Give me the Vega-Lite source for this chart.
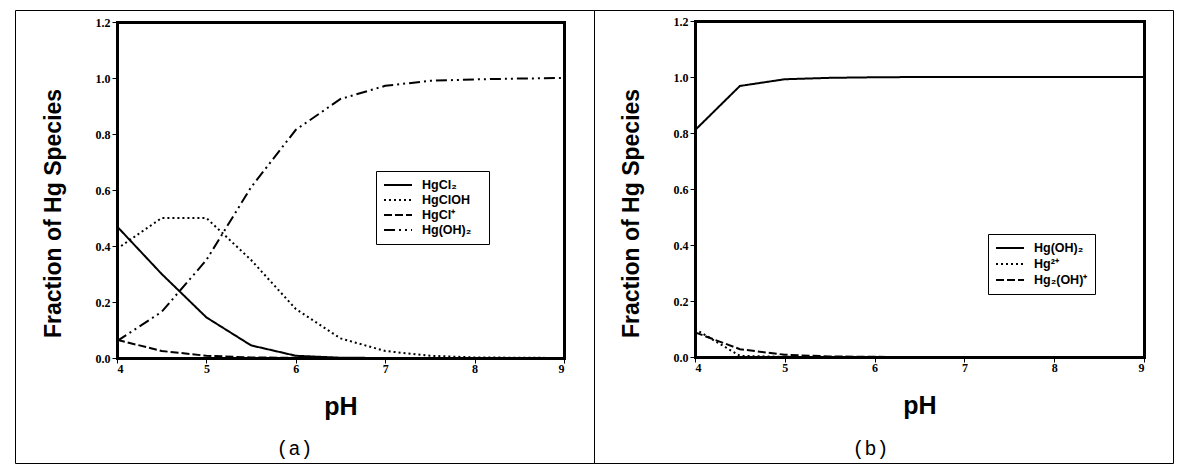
{
  "$schema": "https://vega.github.io/schema/vega-lite/v6.json",
  "padding": {"left": 14, "top": 9, "right": 0, "bottom": 0},
  "background": "white",
  "spacing": 0,
  "bounds": "flush",
  "config": {
    "view": {"stroke": "black", "strokeWidth": 1},
    "axis": {
      "grid": false,
      "domainColor": "black",
      "domainWidth": 3,
      "domainCap": "square",
      "tickColor": "black",
      "tickSize": 5,
      "tickWidth": 1,
      "labelFont": "Liberation Serif",
      "labelFontWeight": "bold",
      "labelFontSize": 12,
      "labelColor": "black",
      "titleFont": "Liberation Sans",
      "titleFontWeight": "bold",
      "titleColor": "black"
    },
    "axisX": {"titleFontSize": 25, "labelPadding": 0, "titlePadding": 20},
    "axisY": {"titleFontSize": 23, "labelPadding": 2, "titlePadding": 30, "titleY": 203},
    "legend": {
      "orient": "none",
      "title": null,
      "strokeColor": "black",
      "strokeWidth": 1,
      "fillColor": "white",
      "padding": 7,
      "labelFont": "Liberation Sans",
      "labelFontWeight": "bold",
      "labelFontSize": 12.5,
      "labelColor": "black",
      "symbolType": "stroke",
      "symbolStrokeColor": "black",
      "symbolStrokeWidth": 2,
      "symbolSize": 784,
      "clipHeight": 14,
      "rowPadding": 2,
      "labelOffset": 9
    },
    "title": {"font": "Liberation Mono", "fontSize": 20, "fontWeight": "normal", "color": "black"}
  },
  "resolve": {"scale": {"strokeDash": "independent"}, "legend": {"strokeDash": "independent"}},
  "datasets": {
    "a": [
      {"pH": 4, "species": "HgCl₂", "value": 0.47},
      {"pH": 4.5, "species": "HgCl₂", "value": 0.30},
      {"pH": 5, "species": "HgCl₂", "value": 0.145},
      {"pH": 5.5, "species": "HgCl₂", "value": 0.045},
      {"pH": 6, "species": "HgCl₂", "value": 0.008},
      {"pH": 6.5, "species": "HgCl₂", "value": 0.001},
      {"pH": 7, "species": "HgCl₂", "value": 0},
      {"pH": 7.5, "species": "HgCl₂", "value": 0},
      {"pH": 8, "species": "HgCl₂", "value": 0},
      {"pH": 8.5, "species": "HgCl₂", "value": 0},
      {"pH": 9, "species": "HgCl₂", "value": 0},
      {"pH": 4, "species": "HgClOH", "value": 0.39},
      {"pH": 4.5, "species": "HgClOH", "value": 0.50},
      {"pH": 5, "species": "HgClOH", "value": 0.50},
      {"pH": 5.5, "species": "HgClOH", "value": 0.35},
      {"pH": 6, "species": "HgClOH", "value": 0.175},
      {"pH": 6.5, "species": "HgClOH", "value": 0.07},
      {"pH": 7, "species": "HgClOH", "value": 0.025},
      {"pH": 7.5, "species": "HgClOH", "value": 0.008},
      {"pH": 8, "species": "HgClOH", "value": 0.002},
      {"pH": 8.5, "species": "HgClOH", "value": 0.001},
      {"pH": 9, "species": "HgClOH", "value": 0},
      {"pH": 4, "species": "HgCl⁺", "value": 0.065},
      {"pH": 4.5, "species": "HgCl⁺", "value": 0.025},
      {"pH": 5, "species": "HgCl⁺", "value": 0.008},
      {"pH": 5.5, "species": "HgCl⁺", "value": 0.002},
      {"pH": 6, "species": "HgCl⁺", "value": 0.0005},
      {"pH": 6.5, "species": "HgCl⁺", "value": 0},
      {"pH": 7, "species": "HgCl⁺", "value": 0},
      {"pH": 7.5, "species": "HgCl⁺", "value": 0},
      {"pH": 8, "species": "HgCl⁺", "value": 0},
      {"pH": 8.5, "species": "HgCl⁺", "value": 0},
      {"pH": 9, "species": "HgCl⁺", "value": 0},
      {"pH": 4, "species": "Hg(OH)₂", "value": 0.06},
      {"pH": 4.5, "species": "Hg(OH)₂", "value": 0.165},
      {"pH": 5, "species": "Hg(OH)₂", "value": 0.35},
      {"pH": 5.5, "species": "Hg(OH)₂", "value": 0.61},
      {"pH": 6, "species": "Hg(OH)₂", "value": 0.815},
      {"pH": 6.5, "species": "Hg(OH)₂", "value": 0.925},
      {"pH": 7, "species": "Hg(OH)₂", "value": 0.972},
      {"pH": 7.5, "species": "Hg(OH)₂", "value": 0.99},
      {"pH": 8, "species": "Hg(OH)₂", "value": 0.995},
      {"pH": 8.5, "species": "Hg(OH)₂", "value": 0.998},
      {"pH": 9, "species": "Hg(OH)₂", "value": 1.0}
    ],
    "b": [
      {"pH": 4, "species": "Hg(OH)₂", "value": 0.81},
      {"pH": 4.5, "species": "Hg(OH)₂", "value": 0.968},
      {"pH": 5, "species": "Hg(OH)₂", "value": 0.992},
      {"pH": 5.5, "species": "Hg(OH)₂", "value": 0.997},
      {"pH": 6, "species": "Hg(OH)₂", "value": 0.999},
      {"pH": 6.5, "species": "Hg(OH)₂", "value": 1.0},
      {"pH": 7, "species": "Hg(OH)₂", "value": 1.0},
      {"pH": 7.5, "species": "Hg(OH)₂", "value": 1.0},
      {"pH": 8, "species": "Hg(OH)₂", "value": 1.0},
      {"pH": 8.5, "species": "Hg(OH)₂", "value": 1.0},
      {"pH": 9, "species": "Hg(OH)₂", "value": 1.0},
      {"pH": 4, "species": "Hg²⁺", "value": 0.10},
      {"pH": 4.5, "species": "Hg²⁺", "value": 0.004},
      {"pH": 5, "species": "Hg²⁺", "value": 0.0005},
      {"pH": 5.5, "species": "Hg²⁺", "value": 0},
      {"pH": 6, "species": "Hg²⁺", "value": 0},
      {"pH": 6.5, "species": "Hg²⁺", "value": 0},
      {"pH": 7, "species": "Hg²⁺", "value": 0},
      {"pH": 7.5, "species": "Hg²⁺", "value": 0},
      {"pH": 8, "species": "Hg²⁺", "value": 0},
      {"pH": 8.5, "species": "Hg²⁺", "value": 0},
      {"pH": 9, "species": "Hg²⁺", "value": 0},
      {"pH": 4, "species": "Hg₂(OH)⁺", "value": 0.088},
      {"pH": 4.5, "species": "Hg₂(OH)⁺", "value": 0.028},
      {"pH": 5, "species": "Hg₂(OH)⁺", "value": 0.008},
      {"pH": 5.5, "species": "Hg₂(OH)⁺", "value": 0.002},
      {"pH": 6, "species": "Hg₂(OH)⁺", "value": 0.0005},
      {"pH": 6.5, "species": "Hg₂(OH)⁺", "value": 0},
      {"pH": 7, "species": "Hg₂(OH)⁺", "value": 0},
      {"pH": 7.5, "species": "Hg₂(OH)⁺", "value": 0},
      {"pH": 8, "species": "Hg₂(OH)⁺", "value": 0},
      {"pH": 8.5, "species": "Hg₂(OH)⁺", "value": 0},
      {"pH": 9, "species": "Hg₂(OH)⁺", "value": 0}
    ]
  },
  "hconcat": [
    {
      "width": 579,
      "height": 453,
      "title": {"text": "(a)", "orient": "bottom", "anchor": "middle", "frame": "group", "offset": -24, "dx": -10},
      "data": {"name": "a"},
      "layer": [
        {
          "mark": {"type": "line", "color": "black", "strokeWidth": 2},
          "encoding": {
            "x": {
              "field": "pH", "type": "quantitative",
              "scale": {"domain": [4, 9], "range": [102, 549], "nice": false, "zero": false},
              "axis": {"orient": "bottom", "offset": -105, "values": [4, 5, 6, 7, 8, 9], "title": "pH"}
            },
            "y": {
              "field": "value", "type": "quantitative",
              "scale": {"domain": [0, 1.2], "range": [348, 12], "nice": false},
              "axis": {"orient": "left", "offset": -102, "values": [0, 0.2, 0.4, 0.6, 0.8, 1.0, 1.2], "format": ".1f", "title": "Fraction of Hg Species"}
            },
            "strokeDash": {
              "field": "species", "type": "nominal",
              "scale": {
                "domain": ["HgCl₂", "HgClOH", "HgCl⁺", "Hg(OH)₂"],
                "range": [[1, 0], [2, 3], [8, 3], [11, 4, 2, 4, 2, 4]]
              },
              "legend": {"legendX": 361, "legendY": 161, "rowPadding": 1, "labelExpr": "datum.label + '\u2800'"}
            }
          }
        },
        {
          "mark": {"type": "point", "opacity": 0},
          "encoding": {
            "x": {
              "field": "pH", "type": "quantitative",
              "scale": {"domain": [4, 9], "range": [102, 549], "nice": false, "zero": false},
              "axis": {"orient": "top", "offset": -12, "labels": false, "ticks": false, "title": null}
            },
            "y": {
              "field": "value", "type": "quantitative",
              "scale": {"domain": [0, 1.2], "range": [348, 12], "nice": false},
              "axis": {"orient": "right", "offset": -30, "labels": false, "ticks": false, "title": null}
            }
          }
        }
      ],
      "resolve": {"scale": {"x": "independent", "y": "independent"}}
    },
    {
      "width": 579,
      "height": 453,
      "title": {"text": "(b)", "orient": "bottom", "anchor": "middle", "frame": "group", "offset": -24, "dx": -13},
      "data": {"name": "b"},
      "layer": [
        {
          "mark": {"type": "line", "color": "black", "strokeWidth": 2},
          "encoding": {
            "x": {
              "field": "pH", "type": "quantitative",
              "scale": {"domain": [4, 9], "range": [101, 550], "nice": false, "zero": false},
              "axis": {"orient": "bottom", "offset": -106, "values": [4, 5, 6, 7, 8, 9], "title": "pH"}
            },
            "y": {
              "field": "value", "type": "quantitative",
              "scale": {"domain": [0, 1.2], "range": [347, 11], "nice": false},
              "axis": {"orient": "left", "offset": -101, "values": [0, 0.2, 0.4, 0.6, 0.8, 1.0, 1.2], "format": ".1f", "title": "Fraction of Hg Species"}
            },
            "strokeDash": {
              "field": "species", "type": "nominal",
              "scale": {
                "domain": ["Hg(OH)₂", "Hg²⁺", "Hg₂(OH)⁺"],
                "range": [[1, 0], [2, 3], [8, 3]]
              },
              "legend": {"legendX": 394, "legendY": 224}
            }
          }
        },
        {
          "mark": {"type": "point", "opacity": 0},
          "encoding": {
            "x": {
              "field": "pH", "type": "quantitative",
              "scale": {"domain": [4, 9], "range": [101, 550], "nice": false, "zero": false},
              "axis": {"orient": "top", "offset": -11, "labels": false, "ticks": false, "title": null}
            },
            "y": {
              "field": "value", "type": "quantitative",
              "scale": {"domain": [0, 1.2], "range": [347, 11], "nice": false},
              "axis": {"orient": "right", "offset": -29, "labels": false, "ticks": false, "title": null}
            }
          }
        }
      ],
      "resolve": {"scale": {"x": "independent", "y": "independent"}}
    }
  ]
}
